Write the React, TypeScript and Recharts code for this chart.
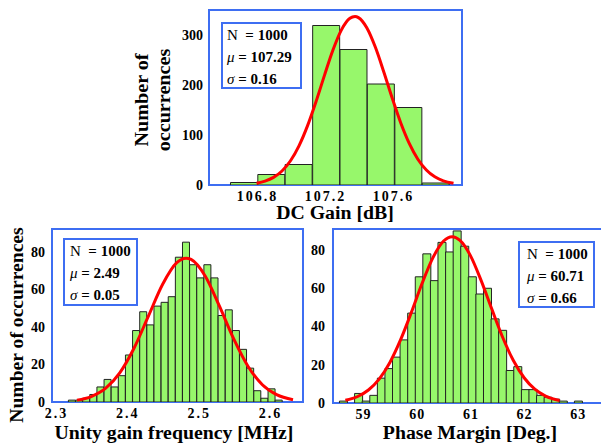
import React from 'react';
import { ComposedChart, Bar, Line, XAxis, YAxis, ReferenceArea } from 'recharts';

const BLUE = '#3e6ef2';
const GREEN = '#97f76b';
const RED = '#ff0000';
const FONT = '"Liberation Serif", "Times New Roman", serif';

// DC gain histogram
const gainBins = [106.727, 106.888, 107.049, 107.211, 107.372, 107.533, 107.695, 107.856];
const gainCounts = [5, 21, 41, 319, 271, 202, 155, 4];
const gainFitX = [106.8, 106.85, 106.9, 106.95, 107.0, 107.05, 107.1, 107.15, 107.2, 107.25, 107.3, 107.35, 107.38, 107.4, 107.45, 107.5, 107.55, 107.6, 107.65, 107.7, 107.75, 107.8, 107.85, 107.9, 107.96];
const gainFitY = [3.6, 7.7, 15.2, 28.1, 48.5, 78.3, 118.2, 166.5, 219.3, 269.9, 310.3, 333.4, 337, 334.8, 314.1, 275.4, 225.6, 172.7, 123.5, 82.6, 51.6, 30.1, 16.4, 8.4, 3.4];
const gainTicksX = [106.8, 107.2, 107.6];
const gainTicksY = [0, 100, 200, 300];

// unity gain frequency histogram
const ugfBins = [2.323, 2.333, 2.343, 2.353, 2.363, 2.373, 2.383, 2.393, 2.403, 2.413, 2.423, 2.433, 2.443, 2.453, 2.463, 2.473, 2.483, 2.493, 2.503, 2.513, 2.523, 2.533, 2.543, 2.553, 2.563, 2.573, 2.583, 2.593, 2.603, 2.613];
const ugfCounts = [1, 1, 2, 4, 8, 12, 8, 14, 25, 38, 48, 41, 51, 53, 56, 77, 85, 73, 66, 73, 66, 46, 49, 38, 28, 18, 6, 2, 7, 1];
const ugfFitX = [2.33, 2.35, 2.37, 2.39, 2.41, 2.43, 2.45, 2.47, 2.483, 2.49, 2.51, 2.53, 2.55, 2.57, 2.59, 2.61, 2.633];
const ugfFitY = [1.0, 2.9, 7.2, 15.5, 28.6, 45.5, 62.5, 74.1, 76.5, 75.8, 66.9, 50.8, 33.4, 18.9, 9.2, 3.9, 1.2];
const ugfTicksX = [2.3, 2.4, 2.5, 2.6];

// phase margin histogram
const pmBins = [58.631, 58.772, 58.913, 59.054, 59.196, 59.337, 59.478, 59.619, 59.76, 59.902, 60.043, 60.184, 60.325, 60.466, 60.608, 60.749, 60.89, 61.031, 61.172, 61.314, 61.455, 61.596, 61.737, 61.878, 62.02, 62.161, 62.302, 62.443, 62.584, 62.726, 62.867, 63.008];
const pmCounts = [1, 0, 5, 1, 4, 13, 18, 24, 33, 47, 66, 78, 64, 84, 79, 90, 82, 66, 57, 60, 44, 38, 17, 19, 7, 7, 4, 3, 2, 1, 0, 1];
const pmFitX = [58.67, 58.9, 59.1, 59.3, 59.5, 59.7, 59.9, 60.1, 60.3, 60.5, 60.66, 60.8, 61.0, 61.2, 61.4, 61.6, 61.8, 62.0, 62.2, 62.4, 62.66];
const pmFitY = [1.4, 3.4, 6.8, 12.5, 21.2, 33.1, 47.4, 62.6, 75.9, 84.7, 87, 85.2, 77.1, 64.0, 49.0, 34.4, 22.2, 13.2, 7.2, 3.6, 1.3];
const pmTicksX = [59, 60, 61, 62, 63];

const smallTicksY = [0, 20, 40, 60, 80];

const XTick = ({ x, y, payload, spacing }: any) => (
    <text
        x={x + spacing / 2}
        y={y}
        dy="0.71em"
        textAnchor="middle"
        fontFamily={FONT}
        fontWeight="bold"
        fontSize={14}
        letterSpacing={spacing}
        fill="#000"
    >
        {payload.value}
    </text>
);

function HistPanel({ bins, counts, fitX, fitY, xDomain, yDomain, xTicks, yTicks, width, height, margin, yWidth, yTickMargin, xHeight, spacing }: any) {
    const data = bins.map((x: number, i: number) => ({ x, count: counts[i] }));
    const fit = fitX.map((x: number, i: number) => ({ x, fit: fitY[i] }));
    return (
        <ComposedChart width={width} height={height} data={data} margin={margin} barCategoryGap={0} barGap={0}>
            <XAxis
                dataKey="x"
                type="number"
                domain={xDomain}
                ticks={xTicks}
                allowDataOverflow
                interval={0}
                axisLine={false}
                tickLine={false}
                tickSize={6}
                tickMargin={0}
                height={xHeight}
                tick={(p: any) => <XTick {...p} spacing={spacing} />}
            />
            <XAxis xAxisId="fit" dataKey="x" type="number" domain={xDomain} allowDataOverflow hide />
            <YAxis
                type="number"
                domain={yDomain}
                ticks={yTicks}
                allowDataOverflow
                interval={0}
                axisLine={false}
                tickLine={false}
                width={yWidth}
                tickMargin={yTickMargin}
                tick={{ fill: '#000', fontWeight: 'bold', fontFamily: FONT, fontSize: 14 }}
            />
            <Bar dataKey="count" fill={GREEN} stroke="#222" strokeWidth={1} isAnimationActive={false} />
            <Line data={fit} xAxisId="fit" dataKey="fit" type="monotone" stroke={RED} strokeWidth={3} dot={false} isAnimationActive={false} />
            <ReferenceArea x1={xDomain[0]} x2={xDomain[1]} y1={yDomain[0]} y2={yDomain[1]} fill="none" stroke={BLUE} strokeWidth={2} ifOverflow="visible" />
        </ComposedChart>
    );
}

function StatBox({ left, top, width, height, padLeft, mu, sigma }: any) {
    return (
        <div style={{
            position: 'absolute', left, top, width, height, boxSizing: 'border-box',
            border: `2px solid ${BLUE}`, background: '#fff', paddingLeft: padLeft,
            fontFamily: FONT, fontSize: 15, lineHeight: '22px', color: '#000', whiteSpace: 'pre',
        }}>
            <div><span>N</span><b>{'  = 1000'}</b></div>
            <div><i>μ</i><b>{' = ' + mu}</b></div>
            <div><i>σ</i><b>{' = ' + sigma}</b></div>
        </div>
    );
}

const titleStyle: React.CSSProperties = {
    position: 'absolute', fontFamily: FONT, fontWeight: 'bold', fontSize: 18,
    lineHeight: '18px', color: '#000', whiteSpace: 'nowrap', textAlign: 'center',
};

export default function App() {
    return (
        <div style={{ position: 'absolute', left: 0, top: 0, width: 601, height: 444, overflow: 'hidden', background: '#fff' }}>
            <div style={{ position: 'absolute', left: 130, top: 0 }}>
                <HistPanel
                    bins={gainBins} counts={gainCounts} fitX={gainFitX} fitY={gainFitY}
                    xDomain={[106.52, 108.01]} yDomain={[0, 350]} xTicks={gainTicksX} yTicks={gainTicksY}
                    width={340} height={225} margin={{ top: 10, right: 8, left: 0, bottom: 0 }}
                    yWidth={79} yTickMargin={0} xHeight={40} spacing={2}
                />
            </div>
            <div style={{ position: 'absolute', left: 0, top: 225 }}>
                <HistPanel
                    bins={ugfBins} counts={ugfCounts} fitX={ugfFitX} fitY={ugfFitY}
                    xDomain={[2.295, 2.647]} yDomain={[0, 92]} xTicks={ugfTicksX} yTicks={smallTicksY}
                    width={310} height={219} margin={{ top: 4, right: 7, left: 0, bottom: 0 }}
                    yWidth={52} yTickMargin={1} xHeight={42} spacing={2}
                />
            </div>
            <div style={{ position: 'absolute', left: 300, top: 225 }}>
                <HistPanel
                    bins={pmBins} counts={pmCounts} fitX={pmFitX} fitY={pmFitY}
                    xDomain={[58.44, 63.6]} yDomain={[0, 91]} xTicks={pmTicksX} yTicks={smallTicksY}
                    width={320} height={219} margin={{ top: 4, right: 10, left: 0, bottom: 0 }}
                    yWidth={33} yTickMargin={2} xHeight={41} spacing={1}
                />
            </div>

            <div style={{ ...titleStyle, left: 335, top: 213, transform: 'translate(-50%, -50%) scaleX(1.1)' }}>DC Gain [dB]</div>
            <div style={{ ...titleStyle, left: 174, top: 433, transform: 'translate(-50%, -50%) scaleX(1.1)' }}>Unity gain frequency [MHz]</div>
            <div style={{ ...titleStyle, left: 470, top: 433, transform: 'translate(-50%, -50%) scaleX(1.1)' }}>Phase Margin [Deg.]</div>
            <div style={{ ...titleStyle, left: 153, top: 100, lineHeight: '22px', transform: 'translate(-50%, -50%) rotate(-90deg) scaleX(1.12)' }}>
                Number of<br />occurrences
            </div>
            <div style={{ ...titleStyle, left: 17, top: 325, transform: 'translate(-50%, -50%) rotate(-90deg) scaleX(1.09)' }}>Number of occurrences</div>

            <StatBox left={221} top={22} width={81} height={67} padLeft={4} mu="107.29" sigma="0.16" />
            <StatBox left={63} top={238} width={75} height={68} padLeft={5} mu="2.49" sigma="0.05" />
            <StatBox left={518} top={241} width={77} height={67} padLeft={7} mu="60.71" sigma="0.66" />
        </div>
    );
}
